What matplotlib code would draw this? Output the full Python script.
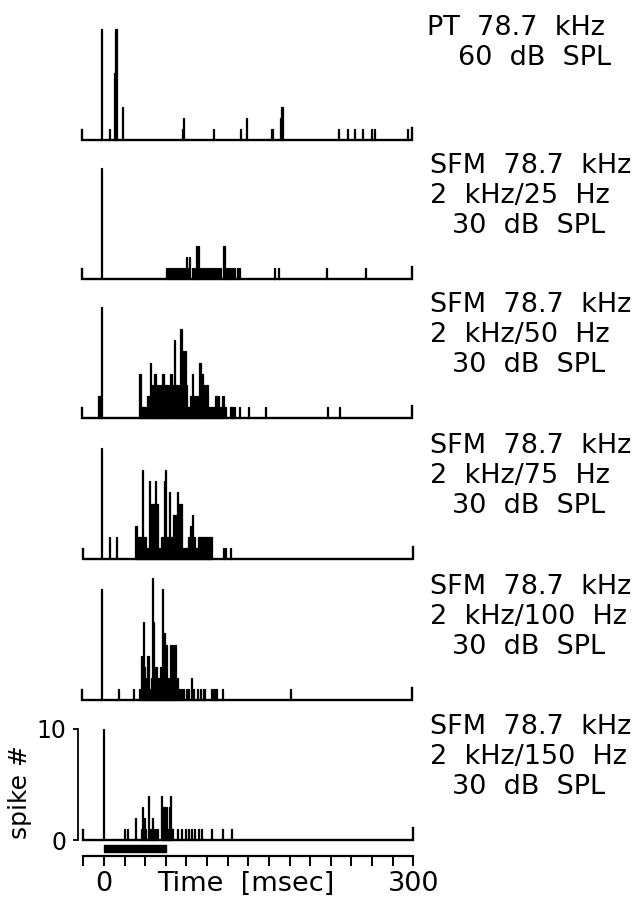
import matplotlib
matplotlib.use("Agg")
import matplotlib.pyplot as plt

# post-stimulus time histograms, 1 ms bins: bin time (msec) and spike count
t_pt60 = [-1, 7, 12, 13, 14, 20, 78, 79, 108, 134, 140, 164, 165, 173, 174, 175,
          229, 238, 245, 252, 261, 264, 296]
n_pt60 = [10, 1, 6, 10, 10, 3, 1, 2, 1, 1, 2, 1, 1, 2, 3, 3,
          1, 1, 1, 1, 1, 1, 1]

t_sfm25 = [-1, 62, 64, 66, 68, 70, 72, 74, 76, 78, 80, 82, 84, 85, 87, 89,
           91, 92, 93, 95, 97, 99, 101, 103, 105, 107, 109, 111, 113, 115,
           118, 120, 122, 124, 126, 128, 131, 133, 167, 171, 217, 255]
n_sfm25 = [10, 1, 1, 1, 1, 1, 1, 1, 1, 1, 1, 2, 1, 2, 1, 1,
           3, 2, 3, 1, 1, 1, 1, 1, 1, 1, 1, 1, 1, 1,
           3, 1, 1, 1, 1, 1, 1, 1, 1, 1, 1, 1]

t_sfm50 = [-4, -3, -1, 35, 36, 37, 38, 39, 40, 41, 43, 44, 46, 47, 48, 49,
           50, 51, 52, 53, 54, 55, 56, 57, 58, 59, 60, 61, 62, 63, 64, 65,
           66, 67, 68, 69, 70, 71, 72, 73, 74, 75, 76, 77, 78, 79, 80, 81,
           82, 83, 84, 85, 86, 87, 88, 89, 90, 91, 92, 93, 94, 95, 96, 97,
           98, 99, 100, 101, 102, 103, 104, 105, 106, 107, 109, 110, 111, 112,
           113, 114, 116, 117, 119, 124, 125, 126, 128, 132, 141, 158, 218, 229]
n_sfm50 = [2, 2, 10, 4, 4, 1, 1, 1, 1, 1, 2, 2, 5, 2, 3, 2,
           4, 4, 3, 3, 2, 3, 2, 3, 4, 4, 3, 3, 3, 3, 2, 3,
           4, 3, 2, 7, 3, 3, 3, 2, 3, 8, 8, 3, 6, 4, 6, 3,
           1, 1, 1, 2, 2, 4, 2, 2, 1, 2, 2, 1, 5, 5, 4, 4,
           3, 2, 3, 3, 1, 1, 1, 1, 1, 1, 2, 2, 2, 2,
           1, 1, 2, 2, 1, 1, 1, 1, 1, 1, 1, 1, 1, 1]

t_sfm75 = [-2, 5, 12, 31, 32, 33, 34, 35, 36, 37, 38, 39, 40, 41, 42, 43,
           44, 45, 46, 47, 48, 49, 50, 51, 52, 53, 54, 56, 57, 58, 59, 60,
           61, 62, 63, 64, 65, 66, 67, 68, 69, 70, 71, 72, 73, 74, 75, 76,
           77, 78, 79, 80, 81, 82, 83, 84, 85, 86, 87, 88, 89, 90, 91, 92,
           93, 94, 95, 96, 97, 98, 99, 100, 101, 102, 103, 104, 116, 118, 123]
n_sfm75 = [10, 2, 2, 3, 3, 2, 2, 2, 2, 8, 2, 2, 2, 1, 1, 1,
           7, 5, 5, 5, 5, 5, 7, 5, 5, 1, 1, 2, 2, 2, 7, 8,
           2, 2, 2, 6, 2, 2, 4, 4, 4, 4, 6, 5, 5, 5, 5, 1,
           1, 1, 1, 1, 1, 2, 2, 3, 2, 4, 2, 2, 1, 1, 1, 2,
           2, 2, 2, 2, 2, 2, 2, 2, 2, 2, 2, 2, 1, 1, 1]

t_sfm100 = [-1, 15, 30, 35, 37, 39, 40, 41, 43, 44, 45, 47, 48, 49, 51, 52,
            53, 54, 56, 57, 58, 60, 61, 62, 63, 64, 66, 68, 69, 70, 72, 74,
            76, 78, 81, 83, 86, 88, 92, 95, 98, 105, 107, 109, 110, 116, 182]
n_sfm100 = [10, 1, 1, 1, 4, 7, 3, 2, 4, 4, 1, 2, 11, 7, 3, 3,
            2, 2, 3, 3, 10, 6, 5, 5, 2, 2, 5, 5, 5, 5, 2, 1,
            1, 1, 1, 1, 2, 1, 1, 1, 1, 1, 1, 1, 1, 1, 1]

t_sfm150 = [0, 20, 23, 31, 36, 37, 39, 40, 43, 44, 46, 47, 48, 50, 52, 56,
            57, 58, 59, 60, 61, 62, 63, 64, 65, 66, 71, 75, 79, 82, 85, 88,
            92, 95, 104, 115, 124]
n_sfm150 = [10, 1, 1, 2, 1, 3, 2, 1, 4, 1, 1, 2, 1, 1, 1, 4,
            3, 3, 3, 3, 3, 1, 1, 3, 4, 1, 1, 1, 1, 1, 1, 1,
            1, 1, 1, 1, 1]

hist_t = [t_pt60, t_sfm25, t_sfm50, t_sfm75, t_sfm100, t_sfm150]
hist_n = [n_pt60, n_sfm25, n_sfm50, n_sfm75, n_sfm100, n_sfm150]

labels = [["PT  78.7  kHz", "60  dB  SPL"],
          ["SFM  78.7  kHz", "2  kHz/25  Hz", "30  dB  SPL"],
          ["SFM  78.7  kHz", "2  kHz/50  Hz", "30  dB  SPL"],
          ["SFM  78.7  kHz", "2  kHz/75  Hz", "30  dB  SPL"],
          ["SFM  78.7  kHz", "2  kHz/100  Hz", "30  dB  SPL"],
          ["SFM  78.7  kHz", "2  kHz/150  Hz", "30  dB  SPL"]]

time_ticks = list(range(-20, 301, 20))
stim_on, stim_off = 0, 60

# layout in pixels
W, H = 641, 898
baselines = [140, 279, 418, 559, 700, 840]
lefts = [81.7, 81.7, 82.3, 83.3, 82.3, 83.3]
px_ms = 330 / 320
px_spike = 11.1
ylo, yhi = -1.4, 11.6
fs = 19.5

fig = plt.figure(figsize=(W / 100, H / 100), dpi=100)


def ftext(x, y, s, **kw):
    fig.text(x / W, 1 - y / H, s, **kw)


for i in range(6):
    base = baselines[i]
    bot = base - ylo * px_spike
    hgt = (yhi - ylo) * px_spike
    ax = fig.add_axes([lefts[i] / W, (H - bot) / H, 320 * px_ms / W, hgt / H])
    ax.patch.set_visible(False)
    ax.set_xlim(-20, 300)
    ax.set_ylim(ylo, yhi)
    ax.bar(hist_t[i], hist_n[i], width=1.0, color="k", edgecolor="k", lw=0.9)
    ax.plot([-20, -20, 300, 300], [0.9, 0, 0, 1.1], color="k", lw=1.7,
            solid_joinstyle="miter", clip_on=False)

    if i < 5:
        ax.set_axis_off()
    else:
        for s in ["top", "right"]:
            ax.spines[s].set_visible(False)
        ax.spines["left"].set_bounds(0, 10)
        ax.spines["left"].set_position(("outward", 3.5))
        ax.spines["left"].set_linewidth(1.3)
        ax.set_yticks([0, 10])
        ax.set_yticklabels(["0", "10"])
        ax.tick_params(axis="y", length=3.6, width=1.3, pad=5, labelsize=17)

        ax.spines["bottom"].set_bounds(-20, 300)
        ax.spines["bottom"].set_linewidth(1.6)
        ax.set_xticks(time_ticks)
        ax.set_xticklabels(["0" if t == 0 else "300" if t == 300 else ""
                            for t in time_ticks])
        ax.tick_params(axis="x", length=7.2, width=1.4, pad=4, labelsize=19.5)

        ax.broken_barh([(stim_on, stim_off - stim_on)], (-1.08, 0.63),
                       color="k", clip_on=False)

    # condition labels on the right
    lines = labels[i]
    if len(lines) == 2:
        ftext(427, base - 105, lines[0], fontsize=fs, va="baseline")
        ftext(458, base - 75, lines[1], fontsize=fs, va="baseline")
    else:
        ftext(430, base - 106, lines[0], fontsize=fs, va="baseline")
        ftext(430, base - 76, lines[1], fontsize=fs, va="baseline")
        ftext(452, base - 46, lines[2], fontsize=fs, va="baseline")

ftext(20, 792, "spike #", rotation=90, ha="center", va="center", fontsize=18)
ftext(246, 891, "Time  [msec]", ha="center", va="baseline", fontsize=19.5)

fig.savefig("out.png", dpi=100)
